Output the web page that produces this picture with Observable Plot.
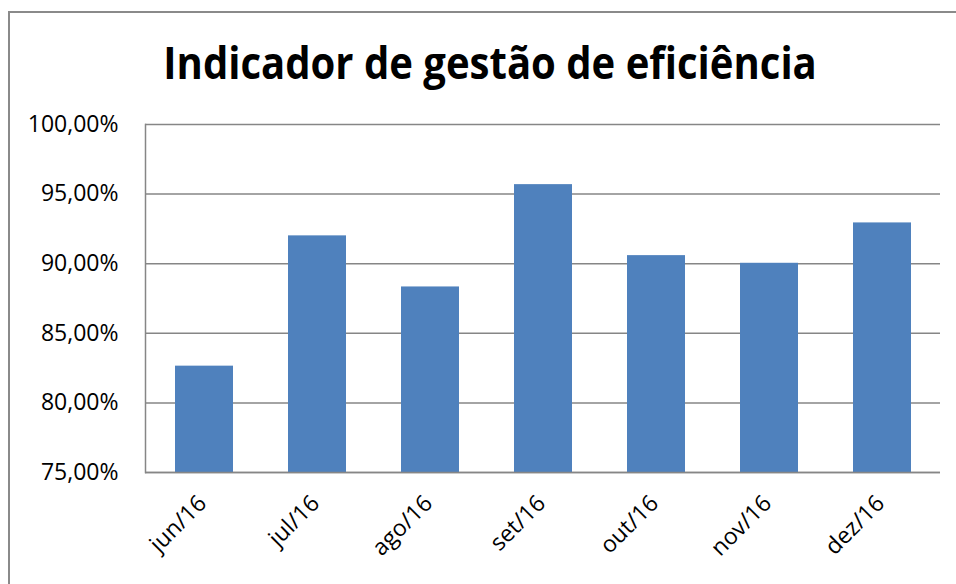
<!DOCTYPE html>
<html>
<head>
<meta charset="utf-8">
<script src="https://cdn.jsdelivr.net/npm/d3@7"></script>
<script src="https://cdn.jsdelivr.net/npm/@observablehq/plot@0.6"></script>
<style>
  body { margin: 0; background: #fff; }
  #wrap { position: relative; width: 956px; height: 584px; overflow: hidden; background: #fff; }
  #frame { position: absolute; left: 8px; top: 11px; width: 1000px; height: 1000px; border: 2px solid #8a8a8a; box-sizing: border-box; }
  #title { position: relative; height: 100px; width: 980px; text-align: center; font-family: "Open Sans", sans-serif; font-weight: bold; font-size: 44px; line-height: 1; padding-top: 40px; box-sizing: border-box; color: #000; }
  #title span { display: inline-block; transform: scaleX(0.91); transform-origin: center; }
  #chart { position: relative; }
  #chart svg { font-family: "Open Sans", sans-serif; }
</style>
</head>
<body>
<div id="wrap">
  <div id="frame"></div>
  <div id="title"><span>Indicador de gestão de eficiência</span></div>
  <div id="chart"></div>
</div>
<script>
const months = ["jun/16", "jul/16", "ago/16", "set/16", "out/16", "nov/16", "dez/16"];
const values = [82.64, 92.0, 88.33, 95.68, 90.58, 90.03, 92.93];
const yTicks = [75, 80, 85, 90, 95, 100];

const data = months.map((m, i) => ({m, v: values[i]}));
const fmt = d => d.toFixed(2).replace(".", ",") + "%";

const chart = Plot.plot({
  width: 956,
  height: 484,
  marginLeft: 145,
  marginRight: 16,
  marginTop: 24,
  marginBottom: 112,
  x: {domain: months, paddingInner: 0.49, paddingOuter: 0.245, label: null},
  y: {domain: [75, 100], label: null},
  marks: [
    Plot.gridY(yTicks, {stroke: "#868686", strokeOpacity: 1, strokeWidth: 1.5}),
    Plot.barY(data, {x: "m", y1: 75, y2: "v", fill: "#4F81BD"}),
    Plot.ruleY([75], {stroke: "#868686", strokeWidth: 1.5}),
    Plot.frame({anchor: "left", stroke: "#868686", strokeWidth: 1.5}),
    Plot.axisY(yTicks, {tickSize: 0, tickPadding: 27, tickFormat: fmt, fontSize: 23, fill: "#000"}),
    Plot.axisX({tickSize: 0, tickRotate: -45, tickPadding: 27, dx: -2, fontSize: 23, fill: "#000"})
  ]
});
document.getElementById("chart").appendChild(chart);
</script>
</body>
</html>
